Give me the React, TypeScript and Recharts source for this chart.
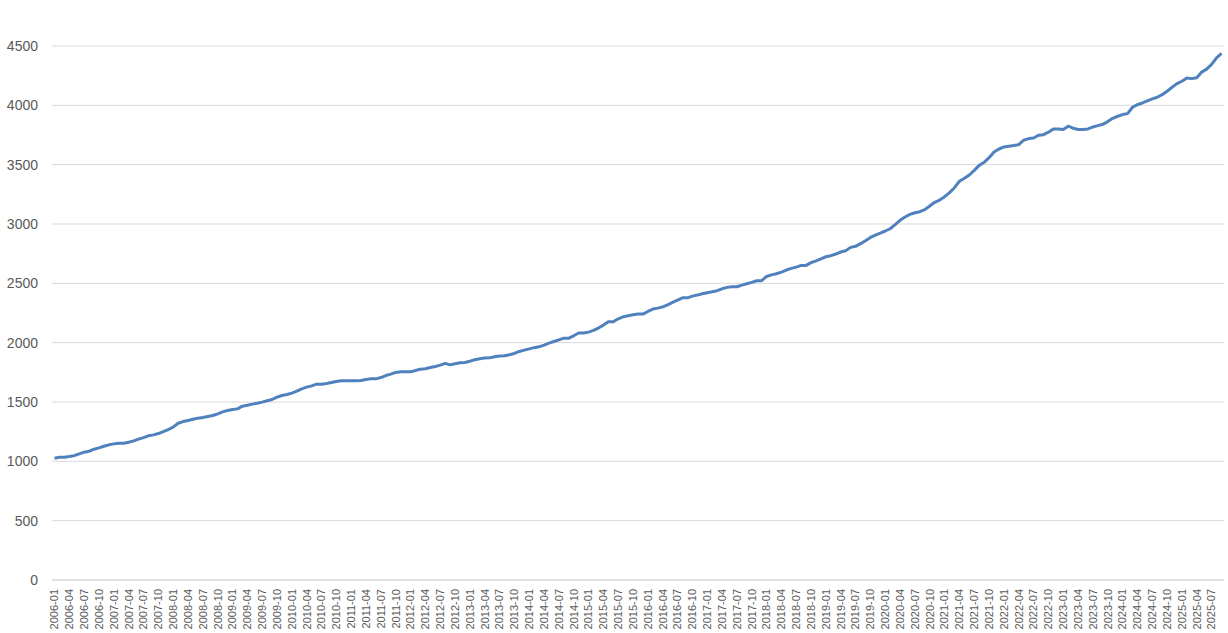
import React from 'react';
import { LineChart, Line, XAxis, YAxis, CartesianGrid } from 'recharts';

const START_YEAR = 2006;

// monthly values, 2006-01 .. 2025-09
const values = [
  1026, 1034, 1034, 1040, 1048, 1063, 1077, 1085, 1102, 1113, 1127, 1139, // 2006
  1147, 1153, 1153, 1161, 1172, 1187, 1200, 1215, 1223, 1234, 1251, 1268, // 2007
  1288, 1321, 1335, 1344, 1355, 1364, 1369, 1378, 1386, 1400, 1417, 1428, // 2008
  1436, 1442, 1465, 1473, 1482, 1490, 1499, 1510, 1521, 1541, 1555, 1563, // 2009
  1575, 1591, 1611, 1625, 1636, 1650, 1650, 1656, 1665, 1673, 1679, 1679, // 2010
  1679, 1679, 1681, 1690, 1695, 1695, 1706, 1723, 1735, 1749, 1754, 1754, // 2011
  1754, 1765, 1777, 1780, 1791, 1799, 1811, 1825, 1813, 1822, 1830, 1833, // 2012
  1844, 1856, 1864, 1870, 1872, 1881, 1887, 1889, 1898, 1909, 1926, 1937, // 2013
  1948, 1958, 1965, 1979, 1996, 2010, 2024, 2038, 2038, 2058, 2081, 2081, // 2014
  2089, 2103, 2123, 2148, 2176, 2176, 2201, 2218, 2227, 2235, 2241, 2241, // 2015
  2263, 2283, 2291, 2302, 2319, 2339, 2359, 2378, 2378, 2392, 2401, 2412, // 2016
  2421, 2429, 2438, 2454, 2466, 2471, 2471, 2485, 2497, 2508, 2522, 2522, // 2017
  2558, 2571, 2581, 2595, 2612, 2626, 2637, 2651, 2651, 2674, 2690, 2707, // 2018
  2724, 2733, 2747, 2764, 2775, 2803, 2812, 2834, 2859, 2887, 2907, 2924, // 2019
  2941, 2960, 2994, 3031, 3059, 3081, 3095, 3104, 3121, 3152, 3183, 3202, // 2020
  3230, 3264, 3306, 3360, 3385, 3413, 3452, 3494, 3520, 3559, 3607, 3632, // 2021
  3649, 3655, 3661, 3669, 3706, 3720, 3725, 3748, 3753, 3774, 3801, 3801, // 2022
  3796, 3824, 3807, 3796, 3796, 3801, 3818, 3829, 3840, 3863, 3891, 3908, // 2023
  3922, 3930, 3984, 4006, 4020, 4037, 4054, 4068, 4090, 4119, 4152, 4183, // 2024
  4203, 4230, 4225, 4232, 4280, 4305, 4345, 4400, 4437, // 2025
];

const yTicks = [0, 500, 1000, 1500, 2000, 2500, 3000, 3500, 4000, 4500];

const months = values.map((_, i) => {
  const y = START_YEAR + Math.floor(i / 12);
  const m = (i % 12) + 1;
  return `${y}-${m < 10 ? '0' + m : m}`;
});

const data = values.map((v, i) => ({ month: months[i], value: v }));

const FONT = '"Liberation Sans", Arial, sans-serif';

const MonthTick = (props: any) => {
  const { x, y, payload } = props;
  return (
    <g transform={`translate(${x},${y})`}>
      <text
        transform="rotate(-90)"
        textAnchor="end"
        dy="0.35em"
        fill="#595959"
        fontSize={11}
        fontFamily={FONT}
      >
        {payload.value}
      </text>
    </g>
  );
};

export default function App() {
  return (
    <div style={{ position: 'absolute', left: 0, top: 0, background: '#fff' }}>
      <LineChart
        width={1228}
        height={633}
        data={data}
        margin={{ top: 46, right: 4, bottom: 0, left: 0 }}
      >
        <CartesianGrid vertical={false} stroke="#d9d9d9" />
        <XAxis
          dataKey="month"
          interval={2}
          height={53}
          tick={<MonthTick />}
          tickLine={false}
          tickSize={0}
          tickMargin={9}
          axisLine={{ stroke: '#d9d9d9' }}
          padding={{ left: 2.5, right: 2.5 }}
        />
        <YAxis
          domain={[0, 4500]}
          ticks={yTicks}
          width={52}
          axisLine={false}
          tickLine={false}
          tickSize={0}
          tickMargin={14}
          tick={{ fill: '#595959', fontSize: 14, fontFamily: FONT }}
        />
        <Line
          dataKey="value"
          type="linear"
          stroke="#4f81bd"
          strokeWidth={3}
          strokeLinejoin="round"
          dot={false}
          isAnimationActive={false}
        />
      </LineChart>
    </div>
  );
}
